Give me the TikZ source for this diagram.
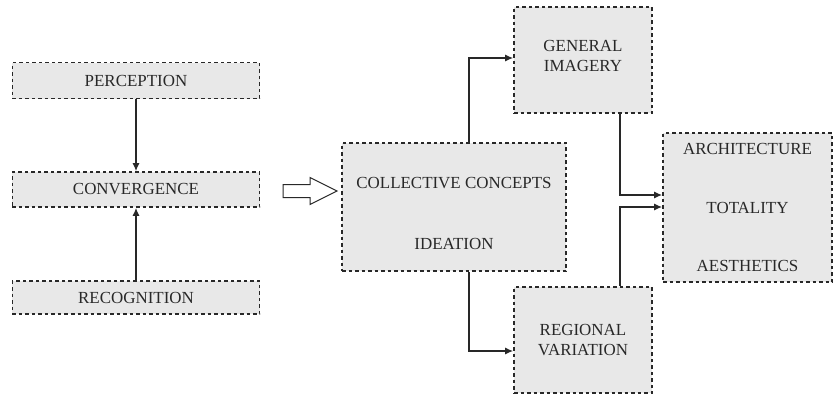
\documentclass[tikz,border=0pt]{standalone}
\usepackage{fontspec}
\setmainfont{Liberation Serif}
\usetikzlibrary{arrows.meta}
\definecolor{boxfill}{RGB}{232,232,232}
\definecolor{ink}{RGB}{40,40,40}
\tikzset{
    idea/.style={draw=ink,fill=boxfill,line width=1.7bp,dash pattern=on 3.5bp off 3bp,
        text=ink,font=\fontsize{17}{19.5}\selectfont,align=center,inner sep=0pt},
    link/.style={draw=ink,line width=1.3bp,-{Latex[length=8bp,width=7bp]}}
}
\begin{document}
\begin{tikzpicture}[x=1bp,y=-1bp]
    \useasboundingbox (0,0) rectangle (834,396);

    % Left column
    \node (perc) at (136,80.5) [idea,minimum width=247bp,minimum height=36bp] {PERCEPTION};
    \node (conv) at (136,189.5) [idea,minimum width=247bp,minimum height=35bp] {CONVERGENCE};
    \node (reco) at (136,297.5) [idea,minimum width=247bp,minimum height=33bp] {RECOGNITION};
    \draw [link] (perc) to (conv);
    \draw [link] (reco) to (conv);

    % Middle box
    \node (coll) at (454,207) [idea,minimum width=224bp,minimum height=128bp]
        {\rule{0pt}{24bp}COLLECTIVE CONCEPTS\\[41bp]IDEATION};

    % Hollow arrow
    \coordinate (flow) at (283,190.5);
    \draw [ink,line width=1bp,fill=white,line join=miter]
        ([yshift=6bp]flow) -- ++(27,0) -- ++(0,-7) -- ++(27,13.5) -- ++(-27,13.5)
        -- ++(0,-7) -- ++(-27,0) -- cycle;

    % Right boxes
    \node (gene) at (583,60) [idea,minimum width=138bp,minimum height=106bp]
        {GENERAL\\IMAGERY\rule[-8bp]{0pt}{8bp}};
    \node (regi) at (583,340) [idea,minimum width=138bp,minimum height=106bp] {REGIONAL\\VARIATION};
    \node (arch) at (747.5,207.5) [idea,minimum width=169bp,minimum height=149bp]
        {ARCHITECTURE\\[39bp]TOTALITY\\[39bp]AESTHETICS};

    % Connectors
    \draw [link] ([xshift=15bp]coll.north) |- ([yshift=2bp]gene.west);
    \draw [link] ([xshift=15bp]coll.south) |- ([yshift=-11bp]regi.west);
    \draw [link] ([xshift=37bp]gene.south) |- ([yshift=12.5bp]arch.west);
    \draw [link] ([xshift=37bp]regi.north) |- ([yshift=0.5bp]arch.west);
\end{tikzpicture}
\end{document}
